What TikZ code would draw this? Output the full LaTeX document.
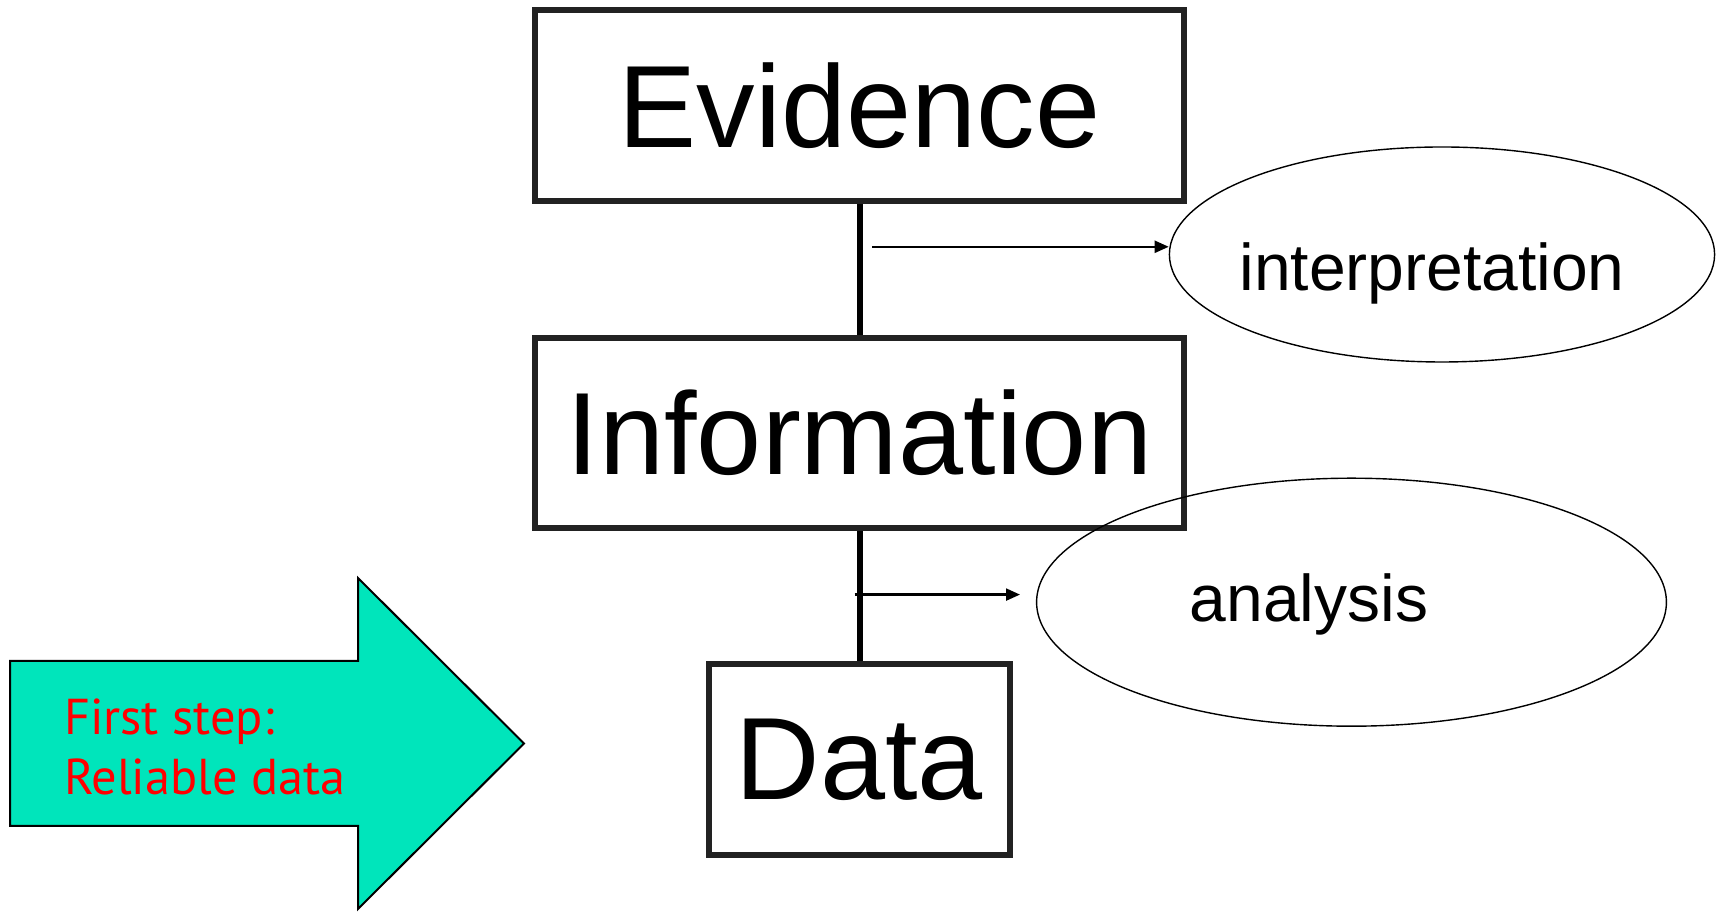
\documentclass[tikz,border=0pt]{standalone}
\usepackage{fontspec}
\setmainfont{Liberation Sans}
\newfontfamily\notefont{PT Sans}
\usetikzlibrary{arrows.meta,shapes.geometric}
\definecolor{stepgreen}{RGB}{0,229,187}
\definecolor{boxline}{RGB}{34,34,34}
\tikzset{level/.style={rectangle,draw=boxline,line width=3pt,inner sep=0pt,font=\fontsize{58.5}{70}\selectfont},
  oval/.style={ellipse,draw,line width=.7pt,inner sep=0pt},
  tag/.style={anchor=base,inner sep=0pt,font=\fontsize{33}{40}\selectfont},
  note/.style={anchor=north west,inner sep=0pt,align=left,text=red,font=\notefont\fontsize{25.2}{29.75}\selectfont},
  bar/.style={line width=3pt},
  arrow/.style={-{Triangle[length=7pt,width=6pt]},line width=1.1pt}}

\begin{document}
\begin{tikzpicture}[x=1pt,y=1pt]
  \path[use as bounding box] (0,0) rectangle (860,457);
  % the three levels
  \node[level,minimum width=324.5pt,minimum height=95.5pt] (evidence) at (429.75,404.25) {Evidence};
  \node[level,minimum width=324.5pt,minimum height=95pt] (information) at (429.75,240.5) {Information};
  \node[level,minimum width=150.5pt,minimum height=95.5pt] (data) at (429.75,77.25) {Data};
  \draw[bar] (evidence) -- (information);
  \draw[bar] (information) -- (data);
  % the steps between them
  \node[oval,minimum width=272.6pt,minimum height=107.5pt] (interpretation) at (721,329.75) {};
  \node[oval,minimum width=314.9pt,minimum height=124pt] (analysis) at (675.75,155.9) {};
  \node[tag] (interpretation text) at ([shift={(-5,-18.15)}]interpretation.center) {interpretation};
  \node[tag] (analysis text) at ([shift={(-21.25,-9.5)}]analysis.center) {analysis};
  \coordinate (from1) at (436,333.6);
  \coordinate (from2) at (427.3,159.7);
  \coordinate (to2) at (510,159.7);
  \draw[arrow] (from1) -- (from1 -| interpretation.west);
  \draw[arrow] (from2) -- (to2);
  % big arrow
  \draw[fill=stepgreen,line width=1pt] (5,126.5) -- (179,126.5) -- (179,168) -- (262,85.25)
    -- (179,2.5) -- (179,44) -- (5,44) -- cycle;
  \node[note] (firststep) at (31.8,107.6) {First step:\\Reliable data};
\end{tikzpicture}
\end{document}
